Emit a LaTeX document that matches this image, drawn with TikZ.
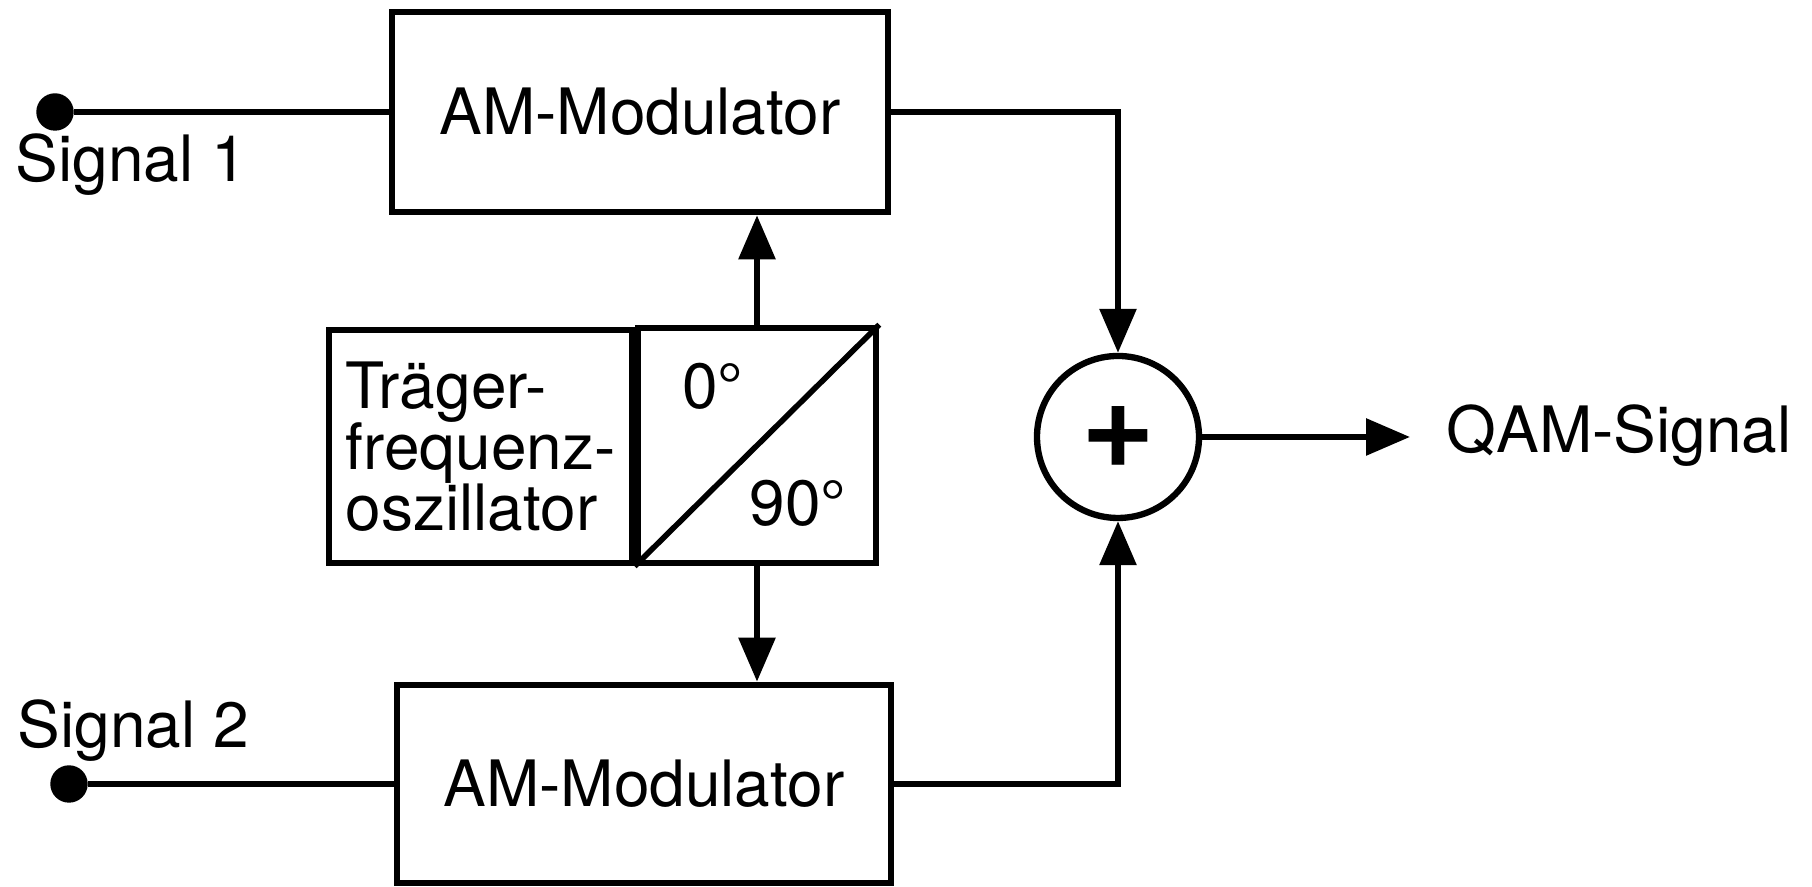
\documentclass[tikz,border=0pt]{standalone}
\usepackage{fontspec}
\setmainfont{TeX Gyre Heros}
\usetikzlibrary{arrows.meta}

\begin{document}
\begin{tikzpicture}[dot/.style={circle, draw, fill, inner sep=0pt, minimum size=3.6mm},
	block/.style={draw, line width=1.9pt, inner sep=0pt},
	wire/.style={line width=1.7pt},
	arr/.style={wire, -{Triangle[length=4.4mm, width=3.6mm]}},
	txt/.style={font=\fontsize{18.2}{17.3}\selectfont, inner sep=0pt}]

	\useasboundingbox (0,0) rectangle (18.12,8.87);

	% blocks
	\node[block, txt, minimum width=4.96cm, minimum height=2cm] (mod1) at (6.40,7.75) {AM-Modulator};
	\node[block, txt, minimum width=4.94cm, minimum height=1.98cm] (mod2) at (6.44,1.03) {AM-Modulator};
	\node[block, txt, align=left, minimum width=3.03cm, minimum height=2.33cm] (osc) at (4.805,4.405) {Träger-\\frequenz-\\oszillator};
	\node[block, minimum width=2.38cm, minimum height=2.35cm] (phase) at (7.57,4.415) {};
	\node[txt] (p0) at (7.13,5.01) {0°};
	\node[txt] (p90) at (7.98,3.84) {90°};
	\node[circle, draw, line width=1.8pt, inner sep=0pt, minimum size=1.62cm,
		font=\fontsize{36}{36}\selectfont\bfseries] (sum) at (11.18,4.50) {+};

	% terminals
	\node[dot] (in1) at (0.55,7.75) {};
	\node[dot] (in2) at (0.69,1.03) {};
	\node[txt, anchor=base west] (s1) at (0.15,7.05) {Signal 1};
	\node[txt, anchor=base west] (s2) at (0.17,1.39) {Signal 2};
	\node[txt, anchor=base west] (qam) at (14.46,4.34) {QAM-Signal};
	\coordinate (out) at (14.10,4.50);

	% arrows
	\draw[line width=1.6pt] (phase.south west) -- (phase.north east);
	\draw[wire] (in1) -- (mod1.west);
	\draw[wire] (in2) -- (mod2.west);
	\draw[arr] (phase.north) -- (phase.north |- mod1.south);
	\draw[arr] (phase.south) -- (phase.south |- mod2.north);
	\draw[arr] (mod1.east) -| (sum.north);
	\draw[arr] (mod2.east) -| (sum.south);
	\draw[arr] (sum.east) -- (out);
\end{tikzpicture}
\end{document}
